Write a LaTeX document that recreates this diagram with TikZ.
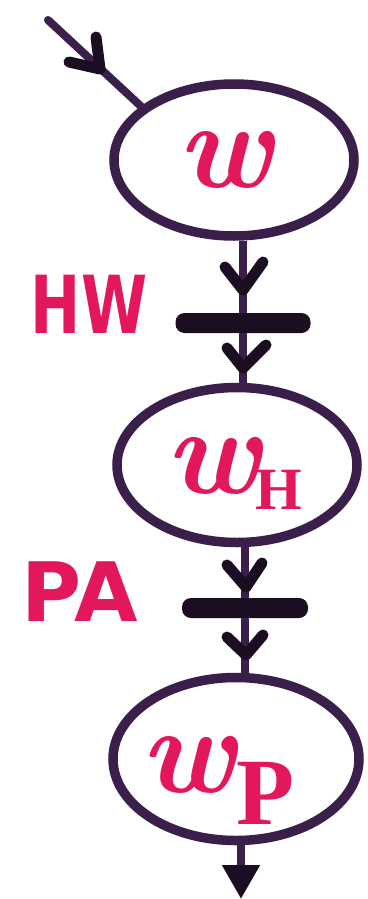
\documentclass[tikz,border=0pt]{standalone}
\usepackage{fontspec}
\usepackage{graphicx}
\usetikzlibrary{shapes.geometric,arrows.meta}
\newfontfamily\labfont{DejaVu Sans}
\newfontfamily\subfont{Liberation Serif}
\definecolor{ink}{HTML}{3A1F4B}
\definecolor{barink}{HTML}{1C0E22}
\definecolor{pen}{HTML}{E3185A}
\newcommand{\subtail}[4]{\makebox[0pt][l]{\hspace{#1}\smash{\raisebox{#2}{\subfont\bfseries\upshape\fontsize{#3}{#3}\selectfont #4}}}}
\begin{document}
\begin{tikzpicture}[x=1pt,y=-1pt,
  place/.style={draw=ink, line width=9.5pt, ellipse, inner sep=0pt},
  tbar/.style={fill=barink, draw=none, rectangle, rounded corners=9pt, minimum height=20pt, inner sep=0pt},
  conn/.style={draw=ink, line width=8pt},
  chev/.style={draw=barink, line width=11pt, line cap=round, line join=round},
  wtext/.style={text=pen, inner sep=0pt, font=\fontsize{124}{128}\selectfont\bfseries\itshape},
  ltext/.style={text=pen, inner sep=0pt, font=\labfont\bfseries}]
\useasboundingbox (0,0) rectangle (367,899);
% places
\node[place, minimum width=240pt, minimum height=152pt] (p1) at (234,160) {};
\node[place, minimum width=240pt, minimum height=155pt] (p2) at (237,465) {};
\node[place, minimum width=246pt, minimum height=163pt] (p3) at (236,759) {};
% transitions
\node[tbar, minimum width=135pt] (t1) at (243,323) {};
\node[tbar, minimum width=126pt] (t2) at (245,608) {};
% free ends
\coordinate (s) at (48,20);
\coordinate (e) at (241,899);
% connectors
\draw[conn, line cap=round] (s) -- (p1.150);
\draw[conn] (p1.south -| t1) -- (t1);
\draw[conn] (t1) -- (t1 |- p2.north);
\draw[conn] (p2.south -| t2) -- (t2);
\draw[conn] (t2) -- (t2 |- p3.north);
\draw[conn, -{Triangle[width=36pt,length=34pt,color=barink,fill=barink]}] (p3.south -| e) -- (e);
% chevron arrowheads
\draw[chev] (96,37) -- (100,69) -- (69,62);
\draw[chev] (225,267) -- (243,290) -- (263,262);
\draw[chev] (227,348) -- (243,368) -- (266,345);
\draw[chev] (227,565) -- (246,587) -- (262,563);
\draw[chev] (227,637) -- (246,655) -- (263,635);
% texts
\node[wtext] (w1) at (225,160) {w};
\node[wtext] (w2) at (213,466) {w\subtail{-5pt}{-16pt}{60pt}{H}};
\node[wtext] (w3) at (188,765) {w\subtail{1pt}{-32pt}{95pt}{P}};
\node[ltext, font=\labfont\bfseries\fontsize{80}{84}\selectfont] (hw) at (89,304) {\scalebox{0.75}[1]{HW}};
\node[ltext, font=\labfont\bfseries\fontsize{82}{86}\selectfont] (pa) at (80,592) {PA};
\end{tikzpicture}
\end{document}
